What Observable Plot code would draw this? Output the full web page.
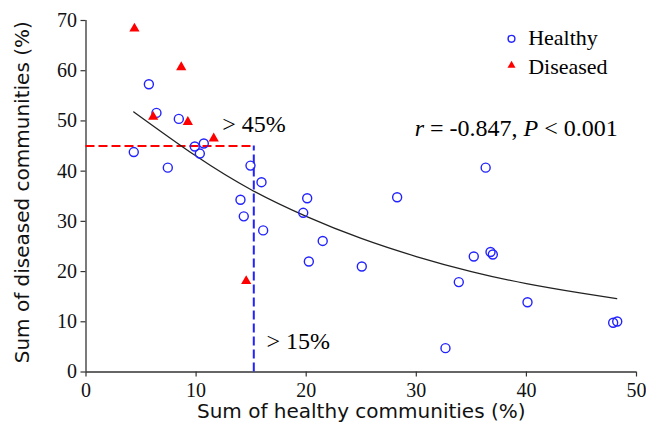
<!DOCTYPE html>
<html>
<head>
<meta charset="utf-8">
<script src="https://cdn.jsdelivr.net/npm/d3@7"></script>
<script src="https://cdn.jsdelivr.net/npm/@observablehq/plot@0.6"></script>
<style>
  html, body { margin: 0; padding: 0; background: #fff; }
  #chart { width: 646px; height: 440px; }
</style>
</head>
<body>
<div id="chart"></div>
<script>
// Healthy communities (circles)
const healthyX = [5.71, 6.40, 8.43, 4.34, 7.43, 9.88, 10.7, 10.34, 14.94, 15.94, 14.03, 14.33, 16.09, 20.09, 19.73, 21.5, 20.24, 25.05, 28.26, 32.65, 33.86, 35.22, 36.74, 36.95, 40.1, 47.88, 48.25, 36.3];
const healthyY = [57.3, 51.6, 50.4, 43.8, 40.7, 44.9, 45.5, 43.5, 41.1, 37.8, 34.3, 31.0, 28.2, 34.6, 31.7, 26.1, 22.0, 21.0, 34.8, 4.75, 17.9, 23.0, 23.9, 23.4, 13.9, 9.8, 10.06, 40.7];
// Diseased communities (triangles)
const diseasedX = [4.40, 8.65, 6.10, 9.25, 11.6, 14.55];
const diseasedY = [68.4, 60.7, 50.8, 49.8, 46.5, 18.1];
// Fitted trend curve
const fitX = [4.34, 10, 15, 20, 25, 30, 35, 40, 45, 48.2];
const fitY = [51.8, 43.0, 36.3, 31.0, 26.6, 23.0, 20.0, 17.6, 15.7, 14.6];
// Thresholds
const healthyThreshold = 15.24;
const diseasedThreshold = 45;
// Ticks
const xTicks = [0, 10, 20, 30, 40, 50];
const yTicks = [0, 10, 20, 30, 40, 50, 60, 70];
// Labels
const xLabel = "Sum of healthy communities (%)";
const yLabel = "Sum of diseased communities (%)";
const legendLabels = ["Healthy", "Diseased"];
const statText = "r = -0.847, P < 0.001";

const healthy = healthyX.map((x, i) => ({x, y: healthyY[i]}));
const diseased = diseasedX.map((x, i) => ({x, y: diseasedY[i]}));
const fit = fitX.map((x, i) => ({x, y: fitY[i]}));

const BLUE = "#2222ff";
const RED = "#ff0000";
const SERIF = "'Liberation Serif', 'Times New Roman', serif";
const SANS = "'DejaVu Sans', sans-serif";

const chart = Plot.plot({
  width: 646,
  height: 440,
  marginLeft: 85.5,
  marginRight: 10,
  marginTop: 20,
  marginBottom: 68.5,
  x: {domain: [0, 50]},
  y: {domain: [0, 70]},
  style: {fontFamily: SERIF, fontSize: "20px", color: "#111", background: "#fff", overflow: "visible"},
  marks: [
    Plot.axisX({ticks: xTicks, tickSize: 5, tickPadding: 6, label: null, fontSize: 20, fontFamily: SERIF, stroke: "#333", strokeWidth: 1.2}),
    Plot.axisY({ticks: yTicks, tickSize: 5, tickPadding: 4, label: null, fontSize: 20, fontFamily: SERIF, stroke: "#333", strokeWidth: 1.2}),
    Plot.ruleY([0], {stroke: "#333", strokeWidth: 1.3}),
    Plot.ruleX([0], {stroke: "#333", strokeWidth: 1.3}),
    // threshold dashed lines
    Plot.ruleY([diseasedThreshold], {x1: 0, x2: healthyThreshold, stroke: RED, strokeWidth: 2, strokeDasharray: "9,4"}),
    Plot.ruleX([healthyThreshold], {y1: 0, y2: diseasedThreshold, stroke: BLUE, strokeWidth: 2, strokeDasharray: "9,4"}),
    // fitted curve
    Plot.line(fit, {x: "x", y: "y", curve: "natural", stroke: "#222", strokeWidth: 1.3}),
    // points
    Plot.dot(healthy, {x: "x", y: "y", r: 4.5, stroke: BLUE, strokeWidth: 1.4, fill: "none"}),
    Plot.dot(diseased, {x: "x", y: "y", symbol: "triangle", r: 3.8, fill: RED, stroke: "none"}),
    // annotations
    Plot.text(["> 45%"], {x: healthyThreshold, y: diseasedThreshold, dx: -31.6, dy: -14, textAnchor: "start", lineAnchor: "bottom", fontFamily: SERIF, fontSize: 24, fill: "#000"}),
    Plot.text(["> 15%"], {x: healthyThreshold, y: 0, dx: 12.7, dy: -23, textAnchor: "start", lineAnchor: "bottom", fontFamily: SERIF, fontSize: 24, fill: "#000"}),
    Plot.text([statText], {frameAnchor: "top-right", dx: -18.7, dy: 107.5, textAnchor: "end", lineAnchor: "middle", fontFamily: SERIF, fontSize: 24, fill: "#000"}),
    // legend
    Plot.dot([legendLabels[0]], {frameAnchor: "top-right", dx: -125, dy: 18.3, r: 3.4, stroke: BLUE, strokeWidth: 1.4, fill: "none"}),
    Plot.dot([legendLabels[1]], {frameAnchor: "top-right", dx: -125, dy: 45, symbol: "triangle", r: 3.0, fill: RED, stroke: "none"}),
    Plot.text([legendLabels[0]], {frameAnchor: "top-right", dx: -108.3, dy: 17.2, textAnchor: "start", lineAnchor: "middle", fontFamily: SERIF, fontSize: 22, fill: "#000"}),
    Plot.text([legendLabels[1]], {frameAnchor: "top-right", dx: -108.3, dy: 46.2, textAnchor: "start", lineAnchor: "middle", fontFamily: SERIF, fontSize: 22, fill: "#000"}),
    // axis titles
    Plot.text([xLabel], {frameAnchor: "bottom", dy: 40, textAnchor: "middle", lineAnchor: "middle", fontFamily: SANS, fontSize: 20, fill: "#111"}),
    Plot.text([yLabel], {frameAnchor: "left", dx: -63.9, dy: -4, rotate: -90, textAnchor: "middle", lineAnchor: "middle", fontFamily: SANS, fontSize: 20, fill: "#111"})
  ]
});

// italicise r and P in the statistic text
d3.select(chart).selectAll("text").filter(function() { return this.textContent === statText; }).each(function() {
  const t = d3.select(this);
  t.text(null);
  t.append("tspan").attr("font-style", "italic").text("r");
  t.append("tspan").text(" = -0.847, ");
  t.append("tspan").attr("font-style", "italic").text("P");
  t.append("tspan").text(" < 0.001");
});

document.getElementById("chart").appendChild(chart);
</script>
</body>
</html>
